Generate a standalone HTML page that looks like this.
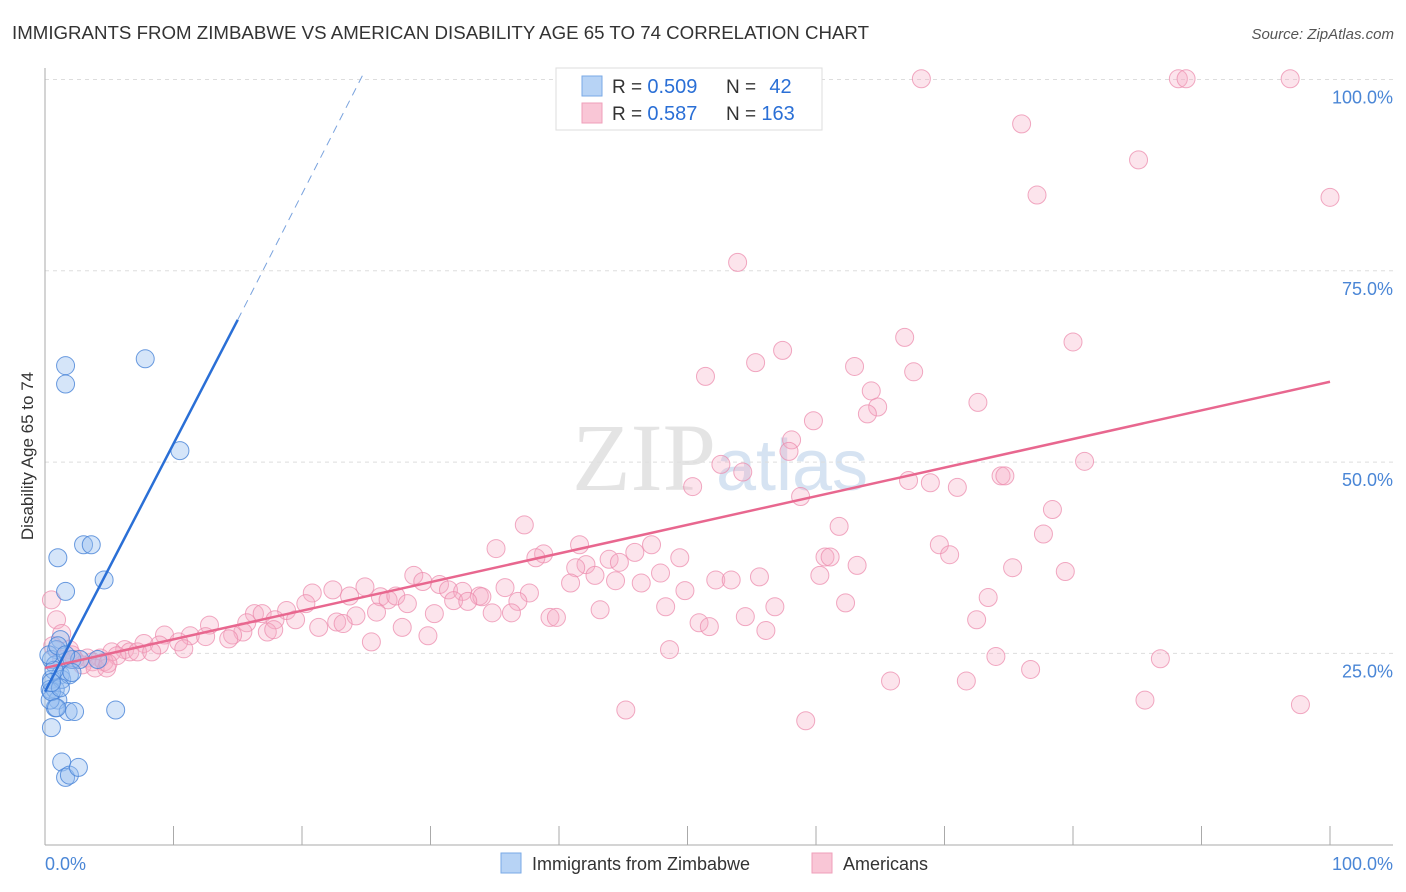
<!DOCTYPE html>
<html><head><meta charset="utf-8"><style>
body{margin:0;background:#fff;font-family:"Liberation Sans",sans-serif;}
svg{display:block}
</style></head><body>
<svg width="1406" height="892">
<text x="12" y="39" font-size="18" fill="#333" textLength="857" lengthAdjust="spacingAndGlyphs">IMMIGRANTS FROM ZIMBABWE VS AMERICAN DISABILITY AGE 65 TO 74 CORRELATION CHART</text>
<text x="1394" y="39" font-size="15" fill="#555" font-style="italic" text-anchor="end">Source: ZipAtlas.com</text>
<text x="720" y="490" font-size="96" fill="#e4e4e4" text-anchor="middle" font-family="Liberation Serif,serif">ZIP<tspan fill="#d6e3f2" font-family="Liberation Sans,sans-serif" font-size="72">atlas</tspan></text>
<g id="grid"></g>
<g id="axes"></g>
<text transform="translate(33,456) rotate(-90)" font-size="17" fill="#333" text-anchor="middle">Disability Age 65 to 74</text>
<g id="marks"></g>
<g>
<rect x="556" y="68" width="266" height="62" fill="#fff" stroke="#ddd"/>
<rect x="582" y="76" width="20" height="20" fill="#b7d3f5" stroke="#7aa9e6"/>
<text x="612" y="93" font-size="19" fill="#333">R = <tspan fill="#2a6fd6" font-size="20">0.509</tspan></text>
<text x="726" y="93" font-size="19" fill="#333">N = <tspan fill="#2a6fd6" dx="8" font-size="20">42</tspan></text>
<rect x="582" y="103" width="20" height="20" fill="#f9c6d6" stroke="#ef9fba"/>
<text x="612" y="120" font-size="19" fill="#333">R = <tspan fill="#2a6fd6" font-size="20">0.587</tspan></text>
<text x="726" y="120" font-size="19" fill="#333">N = <tspan fill="#2a6fd6" font-size="20">163</tspan></text>
</g>
<g>
<rect x="501" y="853" width="20" height="20" fill="#b7d3f5" stroke="#7aa9e6"/>
<text x="532" y="870" font-size="18" fill="#333">Immigrants from Zimbabwe</text>
<rect x="812" y="853" width="20" height="20" fill="#f9c6d6" stroke="#ef9fba"/>
<text x="843" y="870" font-size="18" fill="#333">Americans</text>
</g>
</svg>
<script>
const yTicks=[25,50,75,100];
const yTickLabels=["25.0%","50.0%","75.0%","100.0%"];
const xTickLabels=["0.0%","100.0%"];
const blueX=[1.6,1.6,7.8,10.5,1.0,3.0,3.6,1.6,4.6,1.2,0.9,0.5,0.8,1.2,0.5,0.4,0.8,1.3,1.9,1.0,0.8,0.5,1.8,2.3,5.5,1.3,1.6,1.9,2.6,2.1,2.7,4.1,0.4,0.5,0.7,0.3,1.0,1.6,2.1,1.2,0.5,0.9];
const blueY=[62.6,60.2,63.5,51.5,37.5,39.2,39.2,33.1,34.6,26.8,25.5,24.2,23.5,22.2,21.6,20.3,20.3,21.6,22.2,18.9,17.9,15.3,17.4,17.4,17.6,10.8,8.8,9.1,10.1,24.2,24.2,24.2,18.9,20.0,22.8,24.8,26.0,24.8,22.5,20.5,21.2,17.9];
const pinkX=[68.2,88.2,88.8,96.9,76.0,85.1,77.2,100,53.9,66.9,80.0,57.4,55.3,63.0,67.6,51.4,64.3,72.6,64.8,64.0,59.8,58.1,57.9,80.9,52.6,54.3,74.4,74.7,67.2,68.9,71.0,50.4,58.8,78.4,37.3,61.8,77.7,69.6,41.6,47.2,35.1,38.8,45.9,70.4,60.7,61.1,43.9,42.1,44.7,49.4,38.2,41.3,63.2,75.3,47.9,79.4,42.8,28.7,60.3,55.6,52.2,53.4,40.9,44.4,46.4,30.7,29.4,24.9,22.4,20.8,49.8,35.8,31.4,32.5,23.7,26.1,26.7,27.3,33.8,37.7,34.0,73.4,28.2,31.8,32.9,36.8,20.3,62.3,48.3,56.8,43.2,18.8,16.3,16.9,30.3,34.8,36.3,25.8,24.2,19.5,17.9,39.3,39.8,54.5,72.5,22.7,21.3,23.2,15.7,50.9,51.7,12.8,27.8,15.4,17.3,17.8,9.3,11.3,14.6,14.3,12.5,56.1,29.8,25.4,10.4,7.7,8.9,10.8,48.6,74.0,86.8,6.2,5.2,6.6,7.2,8.3,5.6,4.3,3.3,3.7,4.6,1.9,2.3,2.9,3.9,4.8,4.9,1.3,76.7,0.5,0.9,1.3,2.1,65.8,71.7,85.6,97.7,45.2,59.2,0.6];
const pinkY=[100.1,100.1,100.1,100.1,94.2,89.5,84.9,84.6,76.1,66.3,65.7,64.6,63.0,62.5,61.8,61.2,59.3,57.8,57.2,56.3,55.4,52.9,51.4,50.1,49.7,48.7,48.2,48.2,47.6,47.3,46.7,46.8,45.5,43.8,41.8,41.6,40.6,39.2,39.2,39.2,38.7,38.0,38.2,37.9,37.6,37.6,37.3,36.6,36.9,37.5,37.5,36.2,36.5,36.2,35.5,35.7,35.2,35.2,35.2,35.0,34.6,34.6,34.2,34.5,34.2,34.0,34.4,33.7,33.3,32.9,33.2,33.6,33.3,33.1,32.5,32.4,32.0,32.5,32.5,32.9,32.4,32.3,31.5,31.9,31.8,31.8,31.5,31.6,31.1,31.1,30.7,30.6,30.2,30.2,30.2,30.3,30.3,30.4,29.9,29.4,29.4,29.7,29.7,29.8,29.4,29.1,28.4,28.9,29.0,29.0,28.5,28.7,28.4,27.8,27.8,28.1,27.4,27.3,27.4,26.9,27.2,28.0,27.3,26.5,26.5,26.3,26.1,25.6,25.5,24.6,24.3,25.5,25.2,25.2,25.2,25.2,24.7,24.4,24.4,23.9,23.9,25.5,24.2,23.5,23.1,23.1,23.7,24.2,22.9,32.0,29.4,27.6,24.8,21.4,21.4,18.9,18.3,17.6,16.2,26.0];
const blueFit=[20.0,68.6,100.5];
const blueFitX=[0,15,24.7];
const pinkFitX=[0,100];
const pinkFitY=[23.1,60.5];

const NS="http://www.w3.org/2000/svg";
const X=v=>45+v*12.85;
const Y=v=>844.7-v*7.652;
function mk(tag,attrs,parent){const e=document.createElementNS(NS,tag);for(const k in attrs)e.setAttribute(k,attrs[k]);document.getElementById(parent).appendChild(e);return e;}

yTicks.forEach((t,i)=>{
  const g=mk('line',{x1:45,x2:1393,y1:Y(t),y2:Y(t),stroke:'#ddd','stroke-dasharray':'4,4'},'grid');
  
  
  const l=mk('text',{x:1393,y:Y(t)+24,'font-size':18,fill:'#4a86d6','text-anchor':'end'},'axes');
  l.textContent=yTickLabels[i];
  
  
});
const ax=mk('line',{x1:45,x2:1393,y1:845,y2:845,stroke:'#aaa'},'axes');


const ay=mk('line',{x1:45,x2:45,y1:68,y2:845,stroke:'#aaa'},'axes');


for(let i=0;i<=10;i++){
  const t=mk('line',{x1:X(i*10),x2:X(i*10),y1:826,y2:845,stroke:'#aaa'},'axes');
  
  
}
const xl0=mk('text',{x:45,y:870,'font-size':18,fill:'#4a86d6'},'axes');xl0.textContent=xTickLabels[0];


const xl1=mk('text',{x:1393,y:870,'font-size':18,fill:'#4a86d6','text-anchor':'end'},'axes');xl1.textContent=xTickLabels[1];



pinkX.forEach((x,i)=>{
  const c=mk('circle',{cx:X(x),cy:Y(pinkY[i]),r:9,fill:'rgba(246,170,196,0.32)',stroke:'rgba(236,140,174,0.75)','stroke-width':1},'marks');
  
  
});
blueX.forEach((x,i)=>{
  const c=mk('circle',{cx:X(x),cy:Y(blueY[i]),r:9,fill:'rgba(150,190,240,0.4)',stroke:'rgba(70,130,215,0.8)','stroke-width':1},'marks');
  
  
});
const pl=mk('line',{x1:X(pinkFitX[0]),y1:Y(pinkFitY[0]),x2:X(pinkFitX[1]),y2:Y(pinkFitY[1]),stroke:'#e8678f','stroke-width':2.5},'marks');


const bl=mk('line',{x1:X(blueFitX[0]),y1:Y(blueFit[0]),x2:X(blueFitX[1]),y2:Y(blueFit[1]),stroke:'#2a6fd6','stroke-width':2.5},'marks');


const bd=mk('line',{x1:X(blueFitX[1]),y1:Y(blueFit[1]),x2:X(blueFitX[2]),y2:Y(blueFit[2]),stroke:'#7aa3de','stroke-width':1,'stroke-dasharray':'8,6'},'marks');


</script>
</body></html>
